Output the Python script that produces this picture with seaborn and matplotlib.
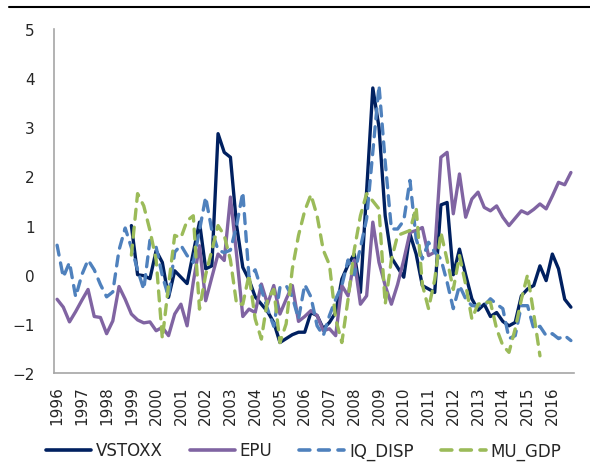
import numpy as np
import pandas as pd
import matplotlib
matplotlib.use("Agg")
import matplotlib.pyplot as plt
from matplotlib.lines import Line2D
import seaborn as sns

''' Data (quarterly, 1996Q1 - 2016Q4) '''
years = list(range(1996, 2017))
nan = np.nan

vstoxx = [nan] * 12 + [
    1.00, 0.00, -0.02, -0.08, 0.49, 0.25, -0.46, 0.08, -0.05, -0.18,
    0.45, 1.07, 0.12, 0.18, 2.87, 2.49, 2.39, 1.00, 0.15, -0.10,
    -0.45, -0.60, -0.75, -0.97, -1.38, -1.30, -1.22, -1.17, -1.17, -0.77,
    -0.83, -1.10, -0.97, -0.77, -0.09, 0.20, 0.42, -0.36, 1.70, 3.80,
    3.00, 1.20, 0.35, 0.15, -0.05, 0.83, 0.42, -0.22, -0.29, -0.36,
    1.42, 1.47, 0.00, 0.52, 0.00, -0.49, -0.72, -0.60, -0.85, -0.77,
    -0.95, -1.04, -0.97, -0.43, -0.29, -0.22, 0.18, -0.12, 0.42, 0.12,
    -0.50, -0.66]

epu = [
    -0.50, -0.66, -0.96, -0.75, -0.52, -0.30, -0.85, -0.87, -1.20, -0.94,
    -0.24, -0.50, -0.80, -0.92, -0.98, -0.96, -1.14, -1.07, -1.24, -0.80,
    -0.60, -1.04, -0.15, 0.59, -0.53, -0.05, 0.42, 0.29, 1.58, 0.40,
    -0.85, -0.70, -0.77, -0.19, -0.60, -0.22, -0.80, -0.50, -0.22, -0.95,
    -0.85, -0.73, -0.83, -1.14, -1.10, -1.24, -0.22, -0.43, 0.30, -0.60,
    -0.43, 1.07, 0.25, -0.22, -0.60, -0.20, 0.30, 0.86, 0.90, 0.96,
    0.39, 0.46, 2.39, 2.49, 1.24, 2.05, 1.17, 1.54, 1.68, 1.37,
    1.30, 1.40, 1.17, 1.00, 1.15, 1.30, 1.24, 1.33, 1.44, 1.34,
    1.60, 1.88, 1.83, 2.08]

iq_disp = [
    0.60, -0.05, 0.25, -0.45, 0.00, 0.30, 0.10, -0.20, -0.45, -0.35,
    0.50, 0.95, 0.55, 0.10, -0.30, 0.70, 0.56, -0.02, -0.45, 0.46,
    0.60, 0.39, 0.25, 0.90, 1.58, 0.90, 0.50, 0.45, 0.50, 1.00,
    1.68, -0.05, 0.10, -0.30, -0.70, -1.05, -0.26, -0.22, -0.45, -0.90,
    -0.20, -0.45, -1.04, -1.24, -0.83, -0.50, -0.22, 0.30, 0.00, 0.55,
    1.14, 2.50, 3.85, 2.30, 0.93, 0.93, 1.10, 1.92, 0.73, 0.32,
    0.66, 0.46, 0.32, -0.15, -0.69, -0.22, -0.49, -0.63, -0.63, -0.63,
    -0.49, -0.60, -0.69, -1.30, -1.24, -0.63, -0.63, -1.10, -1.05, -1.24,
    -1.20, -1.30, -1.24, -1.34]

mu_gdp = [nan] * 12 + [
    0.40, 1.65, 1.40, 0.90, 0.30, -1.30, -0.22, 0.80, 0.75, 1.10,
    1.20, -0.70, 0.00, 0.50, 1.00, 0.80, 0.30, -0.60, -0.60, 0.00,
    -0.90, -1.31, -0.50, -0.30, -1.38, -1.00, 0.12, 0.80, 1.30, 1.63,
    1.20, 0.50, 0.20, -0.90, -1.38, -0.50, 0.50, 1.20, 1.65, 1.50,
    1.34, -0.60, 0.30, 0.80, 0.85, 0.90, 1.37, -0.20, -0.69, -0.10,
    0.86, 0.30, -0.30, 0.39, -0.20, -0.90, -0.60, -0.56, -0.56, -1.10,
    -1.44, -1.58, -1.10, -0.50, 0.00, -0.80, -1.65] + [nan] * 5

series_names = ["VSTOXX", "EPU", "IQ_DISP", "MU_GDP"]
colors = {"VSTOXX": "#002060", "EPU": "#8064A2",
          "IQ_DISP": "#4F81BD", "MU_GDP": "#9BBB59"}
dashes = {"VSTOXX": "", "EPU": "", "IQ_DISP": (3.0, 2.4), "MU_GDP": (3.0, 2.4)}

''' long-form table for seaborn '''
q = np.arange(len(epu))
frames = []
for name, vals in zip(series_names, [vstoxx, epu, iq_disp, mu_gdp]):
    frames.append(pd.DataFrame({"q": q, "value": vals, "series": name}))
df = pd.concat(frames, ignore_index=True).dropna()

sns.set_style("white")
plt.rcParams['font.family'] = ['DejaVu Sans']

fig = plt.figure(figsize=(5.9, 4.64), dpi=100)
ax = fig.add_axes([54 / 590, 1 - 374 / 464, 520 / 590, 344 / 464])

sns.lineplot(data=df, x="q", y="value", hue="series", style="series",
             hue_order=series_names, style_order=series_names,
             palette=colors, dashes=dashes, linewidth=2.4,
             dash_capstyle="round", ax=ax, legend=False)

#axes
ax.set_xlim(-0.5, len(epu) - 0.5)
ax.set_ylim(-2, 5)
ax.set_yticks(range(-2, 6))
ax.set_xticks(np.arange(0, len(epu), 4))
ax.set_xticklabels([str(y) for y in years], rotation=90, fontsize=11)
ax.tick_params(axis="y", labelsize=11, length=0, pad=14)
ax.tick_params(axis="x", length=0, pad=9)
ax.set_xlabel("")
ax.set_ylabel("")
for s in ["top", "right"]:
    ax.spines[s].set_visible(False)
for s in ["left", "bottom"]:
    ax.spines[s].set_color("#A6A6A6")
    ax.spines[s].set_linewidth(1.2)

#legend
handles = [Line2D([], [], color=colors[n], linewidth=2.6,
                  linestyle=(0, dashes[n]) if dashes[n] else "-",
                  dash_capstyle="round") for n in series_names]
fig.legend(handles, series_names, loc="lower center", ncol=4,
           bbox_to_anchor=(0.515, -0.025), frameon=False, fontsize=12,
           handlelength=2.7, handletextpad=0.3, columnspacing=1.6)

#top rule
fig.add_artist(Line2D([9 / 590, 1], [1 - 8 / 464, 1 - 8 / 464],
                      color="black", linewidth=1.5))

fig.savefig("out.png", dpi=100)
